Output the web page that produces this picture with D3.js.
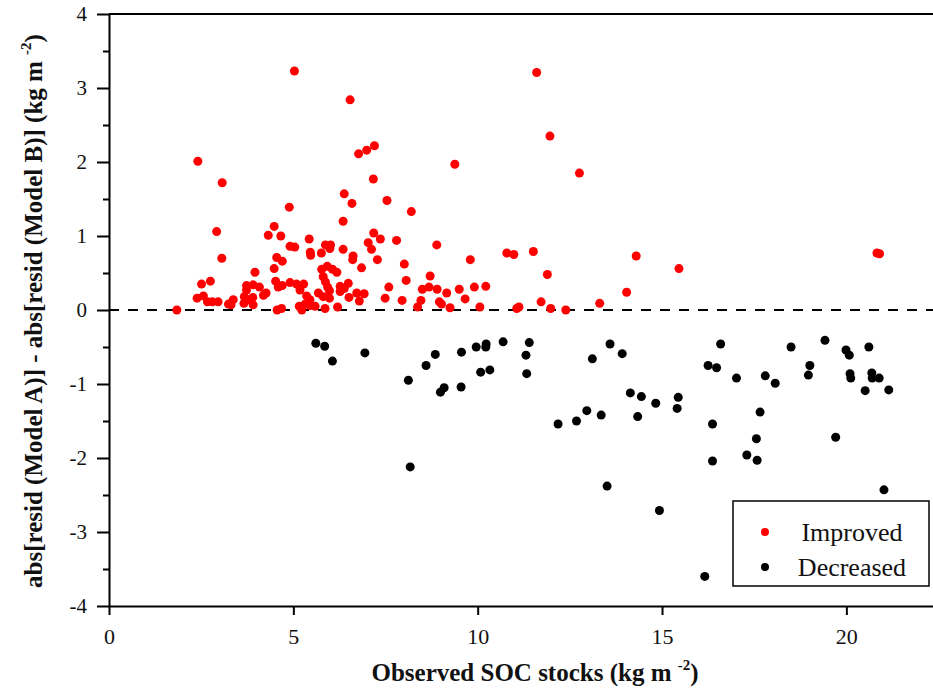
<!DOCTYPE html>
<html>
<head>
<meta charset="utf-8">
<script src="https://cdn.jsdelivr.net/npm/d3@7"></script>
<style>
  body { margin: 0; background: #fff; }
  svg { display: block; }
  svg text { font-family: "Liberation Serif", "Times New Roman", Times, "DejaVu Serif", serif; }
</style>
</head>
<body>
<svg id="chart" width="933" height="693"></svg>
<script>
// observed SOC (kg m-2) vs difference of abs residuals
const improvedX = [5.03, 6.54, 6.77, 6.99, 7.20, 7.17, 2.41, 3.07, 4.89, 6.38, 6.59, 7.54, 6.35, 2.92, 4.48, 4.32,
  4.66, 7.18, 7.36, 5.43, 4.91, 5.04, 5.87, 6.01, 5.99, 6.35, 7.03, 7.12, 5.46, 5.47, 5.76, 3.06, 4.55, 4.70,
  6.62, 6.61, 7.28, 4.48, 3.96, 6.85, 5.77, 5.92, 6.06, 6.18, 5.81, 5.87, 2.51, 2.75, 3.73, 3.91, 4.08, 4.52,
  4.59, 4.70, 4.91, 5.09, 5.28, 5.18, 5.93, 5.98, 6.27, 6.38, 6.49, 7.59, 3.73, 3.67, 3.76, 3.90, 3.91, 4.19,
  4.26, 2.39, 2.56, 2.67, 2.80, 2.96, 3.24, 3.37, 3.31, 3.66, 5.68, 5.81, 5.98, 6.27, 6.51, 6.72, 6.92, 6.79,
  7.49, 5.36, 5.45, 5.32, 5.16, 5.45, 5.59, 4.68, 4.56, 5.23, 5.86, 6.20, 1.84,
  11.60, 11.96, 9.38, 12.76, 8.20, 7.80, 8.89, 10.79, 10.98, 11.51, 14.30, 15.46, 8.01, 9.80, 8.71, 8.06,
  11.89, 8.50, 8.68, 8.90, 9.50, 9.91, 10.22, 9.16, 7.95, 8.46, 8.96, 9.02, 9.25, 9.66, 8.37, 10.06, 11.06,
  11.12, 11.72, 11.98, 12.39, 13.31, 14.04, 20.83, 20.90];
const improvedY = [3.23, 2.84, 2.11, 2.16, 2.22, 1.77, 2.01, 1.72, 1.39, 1.57, 1.44, 1.48, 1.20, 1.06, 1.13, 1.01,
  1.00, 1.04, 0.96, 0.96, 0.86, 0.85, 0.88, 0.88, 0.83, 0.82, 0.91, 0.82, 0.78, 0.74, 0.77, 0.70, 0.71, 0.66,
  0.73, 0.68, 0.68, 0.56, 0.51, 0.57, 0.55, 0.59, 0.55, 0.51, 0.45, 0.38, 0.35, 0.39, 0.33, 0.34, 0.31, 0.39,
  0.31, 0.33, 0.37, 0.35, 0.35, 0.27, 0.31, 0.26, 0.32, 0.29, 0.36, 0.31, 0.27, 0.18, 0.14, 0.17, 0.07, 0.20,
  0.23, 0.16, 0.19, 0.11, 0.11, 0.11, 0.08, 0.14, 0.07, 0.09, 0.23, 0.18, 0.16, 0.25, 0.17, 0.23, 0.22, 0.12,
  0.16, 0.19, 0.14, 0.08, 0.05, 0.06, 0.05, 0.02, 0.00, 0.00, 0.02, 0.04, 0.00,
  3.21, 2.35, 1.97, 1.85, 1.33, 0.94, 0.88, 0.77, 0.75, 0.79, 0.73, 0.56, 0.62, 0.68, 0.46, 0.40,
  0.48, 0.28, 0.31, 0.28, 0.28, 0.31, 0.32, 0.23, 0.13, 0.13, 0.11, 0.08, 0.03, 0.15, 0.04, 0.04, 0.02,
  0.04, 0.11, 0.02, 0.00, 0.09, 0.24, 0.77, 0.76];

const decreasedX = [5.61, 5.85, 6.06, 6.94, 8.12, 8.60, 8.85, 8.99, 9.09, 9.56, 9.55, 9.96, 10.23, 10.22, 10.08,
  10.33, 10.69, 11.40, 11.31, 11.33, 8.17, 12.18, 12.68, 12.96, 13.35, 13.11, 13.59, 13.92, 13.51, 14.14, 14.44,
  14.34, 14.83, 15.44, 15.41, 14.93, 16.59, 16.25, 16.48, 17.02, 17.80, 18.07, 18.50, 19.01, 18.97, 19.42, 19.99,
  20.08, 20.61, 20.10, 20.12, 20.69, 20.70, 20.89, 20.51, 21.15, 17.66, 16.37, 17.56, 16.37, 17.30, 17.58, 19.71,
  21.02, 16.16];
const decreasedY = [-0.45, -0.49, -0.69, -0.58, -0.95, -0.75, -0.60, -1.11, -1.05, -0.57, -1.04, -0.50, -0.46, -0.50, -0.84,
  -0.81, -0.43, -0.44, -0.61, -0.86, -2.12, -1.54, -1.50, -1.36, -1.42, -0.66, -0.46, -0.59, -2.38, -1.12, -1.17,
  -1.44, -1.26, -1.18, -1.33, -2.71, -0.46, -0.75, -0.78, -0.92, -0.89, -0.99, -0.50, -0.75, -0.88, -0.41, -0.54,
  -0.61, -0.50, -0.86, -0.92, -0.85, -0.92, -0.92, -1.09, -1.08, -1.38, -1.54, -1.74, -2.04, -1.96, -2.03, -1.72,
  -2.43, -3.60];

const xTicks = [0, 5, 10, 15, 20];
const yTicks = [-4, -3, -2, -1, 0, 1, 2, 3, 4];
const yMinor = [-3.5, -2.5, -1.5, -0.5, 0.5, 1.5, 2.5, 3.5];
const legendItems = ["Improved", "Decreased"];
const colors = ["#ff0000", "#000000"];

const svg = d3.select("svg#chart");
const plotLeft = 109, plotRight = 933, plotTop = 14, plotBottom = 606;

const x = d3.scaleLinear().domain([0, 22.35]).range([plotLeft, plotRight]);
const y = d3.scaleLinear().domain([-4, 4]).range([plotBottom, plotTop]);

// top frame line
svg.append("line")
   .attr("x1", plotLeft).attr("x2", plotRight)
   .attr("y1", y(4)).attr("y2", y(4))
   .attr("stroke", "#000").attr("stroke-width", 2);

// zero reference
svg.append("line")
   .attr("x1", plotLeft).attr("x2", plotRight)
   .attr("y1", y(0)).attr("y2", y(0))
   .attr("stroke", "#000").attr("stroke-width", 2)
   .attr("stroke-dasharray", "10,9");

// y axis, minor ticks first
svg.append("g")
   .attr("transform", `translate(${plotLeft},0)`)
   .call(d3.axisLeft(y).tickValues(yMinor).tickSize(6).tickSizeOuter(0).tickFormat(""))
   .call(g => g.select(".domain").remove())
   .call(g => g.selectAll("line").attr("stroke-width", 2));

const yAxis = svg.append("g")
   .attr("transform", `translate(${plotLeft},0)`)
   .call(d3.axisLeft(y).tickValues(yTicks).tickSize(12).tickSizeOuter(0).tickPadding(10)
           .tickFormat(d => String(d)));
yAxis.attr("font-family", null);
yAxis.select(".domain").attr("stroke-width", 2);
yAxis.selectAll("line").attr("stroke-width", 2);
yAxis.selectAll("text")
     .attr("font-size", 21)
     .attr("fill", "#111");

const xAxis = svg.append("g")
   .attr("transform", `translate(0,${plotBottom})`)
   .call(d3.axisBottom(x).tickValues(xTicks).tickSize(9).tickSizeOuter(0).tickPadding(13));
xAxis.attr("font-family", null);
xAxis.select(".domain").attr("stroke-width", 2);
xAxis.selectAll("line").attr("stroke-width", 2);
xAxis.selectAll("text")
     .attr("font-size", 22)
     .attr("fill", "#111");

// points
const pts = [
  ...improvedX.map((v, i) => ({x: v, y: improvedY[i], c: colors[0]})),
  ...decreasedX.map((v, i) => ({x: v, y: decreasedY[i], c: colors[1]}))
];
svg.append("g")
   .selectAll("circle")
   .data(pts)
   .join("circle")
   .attr("cx", d => x(d.x))
   .attr("cy", d => y(d.y))
   .attr("r", 4.5)
   .attr("fill", d => d.c);

// axis titles
const xt = svg.append("text")
   .attr("x", 535).attr("y", 681)
   .attr("text-anchor", "middle")
   .attr("font-weight", "bold")
   .attr("font-size", 25)
   .attr("fill", "#111");
xt.append("tspan").text("Observed SOC stocks (kg m ");
xt.append("tspan").attr("font-size", 15).attr("dy", -11).text("-2");
xt.append("tspan").attr("dy", 11).text(")");

const yt = svg.append("text")
   .attr("transform", "translate(42,311) rotate(-90)")
   .attr("text-anchor", "middle")
   .attr("font-weight", "bold")
   .attr("font-size", 25)
   .attr("fill", "#111");
yt.append("tspan").text("abs[resid (Model A)] - abs[resid (Model B)] (kg m ");
yt.append("tspan").attr("font-size", 15).attr("dy", -11).text("-2");
yt.append("tspan").attr("dy", 11).text(")");

// legend
const lg = svg.append("g");
lg.append("rect")
  .attr("x", 733).attr("y", 501)
  .attr("width", 196).attr("height", 85)
  .attr("fill", "#fff")
  .attr("stroke", "#000").attr("stroke-width", 1.5);
const li = lg.selectAll("g.item")
  .data(legendItems)
  .join("g")
  .attr("class", "item")
  .attr("transform", (d, i) => `translate(0,${532 + i * 35})`);
li.append("circle")
  .attr("cx", 765).attr("cy", 0).attr("r", 4)
  .attr("fill", (d, i) => colors[i]);
li.append("text")
  .attr("x", 852).attr("y", 9)
  .attr("text-anchor", "middle")
  .attr("font-size", 26)
  .attr("fill", "#111")
  .text(d => d);
</script>
</body>
</html>
